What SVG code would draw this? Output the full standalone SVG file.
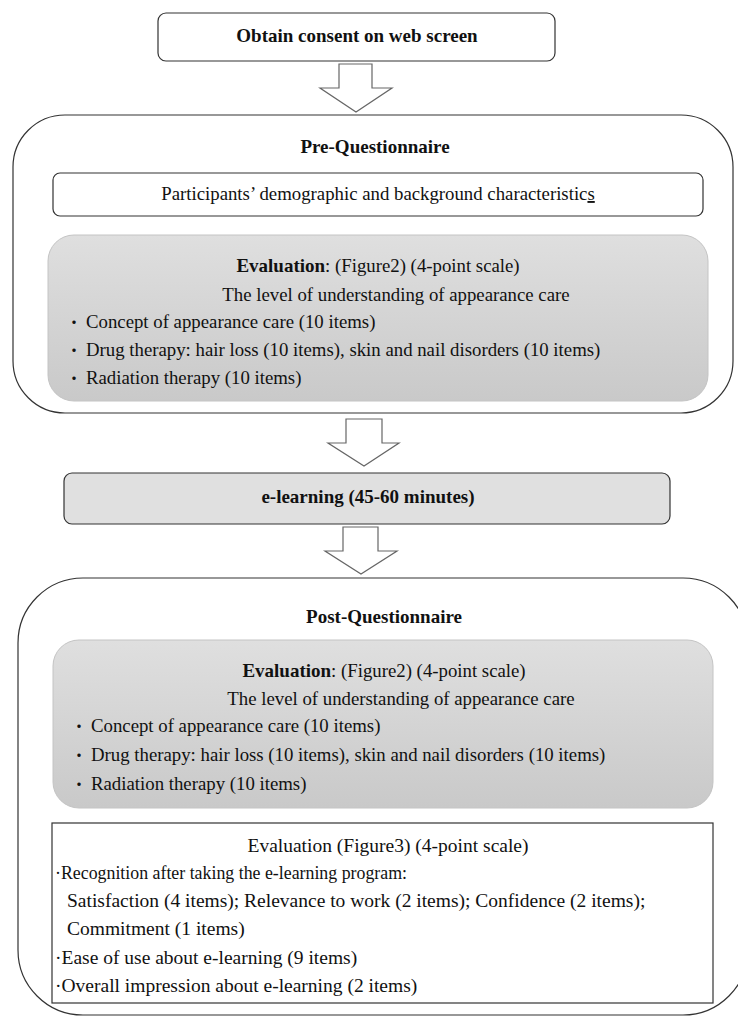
<svg xmlns="http://www.w3.org/2000/svg" width="738" height="1016" viewBox="0 0 738 1016">
<style>
text{font-family:"Liberation Serif","Times New Roman",serif;font-size:18.8px;fill:#111;}
.b{font-weight:bold;font-size:19px;}
.c{text-anchor:middle;}
.f3{font-size:19.5px;}
.dot{font-family:"Noto Sans CJK JP","Liberation Serif",sans-serif;font-size:16px;}
.outer{fill:#fff;stroke:#333;stroke-width:1.2;}
.box{fill:#fff;stroke:#333;stroke-width:1.2;}
.grey{fill:url(#g);stroke:#c4c4c4;stroke-width:1;}
.el{fill:#e0e0e0;stroke:#333;stroke-width:1.2;}
.arrow{fill:#fff;stroke:#666;stroke-width:1.2;stroke-linejoin:miter;}
</style>
<defs>
<linearGradient id="g" x1="0" y1="0" x2="0" y2="1">
<stop offset="0" stop-color="#dfdfdf"/>
<stop offset="1" stop-color="#c9c9c9"/>
</linearGradient>
</defs>
<rect width="738" height="1016" fill="#fff"/>
<g id="consent">
<rect class="box" x="158" y="13" width="397" height="48" rx="8"/>
<text class="b c" x="357" y="42">Obtain consent on web screen</text>
</g>
<g id="pre">
<rect class="outer" x="13" y="115" width="720" height="298" rx="52"/>
<text class="b c" x="375" y="153">Pre-Questionnaire</text>
<g id="participants">
<rect class="box" x="53" y="173" width="650" height="43" rx="7"/>
<text class="c" x="378" y="200" font-size="19">Participants’ demographic and background characteristic<tspan text-decoration="underline">s</tspan></text>
</g>
<g id="pre-eval">
<rect class="grey" x="48" y="235" width="660" height="166" rx="26"/>
<text class="c" x="378" y="272"><tspan class="b" font-size="18.8">Evaluation</tspan>: (Figure2) (4-point scale)</text>
<text class="c" x="396" y="301">The level of understanding of appearance care</text>
<text class="dot" x="66" y="328">・</text><text x="86" y="328">Concept of appearance care (10 items)</text>
<text class="dot" x="66" y="356">・</text><text x="86" y="356">Drug therapy: hair loss (10 items), skin and nail disorders (10 items)</text>
<text class="dot" x="66" y="384">・</text><text x="86" y="384">Radiation therapy (10 items)</text>
</g>
</g>
<g id="elearning">
<rect class="el" x="64" y="473" width="606" height="51" rx="8"/>
<text class="b c" x="368" y="503">e-learning (45-60 minutes)</text>
</g>
<g id="post">
<rect class="outer" x="18" y="578" width="730" height="437" rx="65"/>
<text class="b c" x="384" y="623">Post-Questionnaire</text>
<g id="post-eval">
<rect class="grey" x="53" y="640" width="660" height="168" rx="26"/>
<text class="c" x="384" y="677"><tspan class="b" font-size="18.8">Evaluation</tspan>: (Figure2) (4-point scale)</text>
<text class="c" x="401" y="705">The level of understanding of appearance care</text>
<text class="dot" x="71" y="732">・</text><text x="91" y="732">Concept of appearance care (10 items)</text>
<text class="dot" x="71" y="761">・</text><text x="91" y="761">Drug therapy: hair loss (10 items), skin and nail disorders (10 items)</text>
<text class="dot" x="71" y="790">・</text><text x="91" y="790">Radiation therapy (10 items)</text>
</g>
<g id="fig3-eval">
<rect x="52" y="823" width="661" height="180" fill="#fff" stroke="#333" stroke-width="1.2"/>
<text class="c f3" x="388" y="852">Evaluation (Figure3) (4-point scale)</text>
<text class="f3" x="55" y="879" textLength="352" lengthAdjust="spacingAndGlyphs">·Recognition after taking the e-learning program:</text>
<text class="f3" x="67" y="907">Satisfaction (4 items); Relevance to work (2 items); Confidence (2 items);</text>
<text class="f3" x="67" y="935">Commitment (1 items)</text>
<text class="f3" x="55" y="964">·Ease of use about e-learning (9 items)</text>
<text class="f3" x="55" y="992">·Overall impression about e-learning (2 items)</text>
</g>
</g>
<g id="connectors">
<path class="arrow" d="M339,64 H372 V88 H392 L356,112 L320,88 H339 Z"/>
<path class="arrow" d="M346,419 H382 V443 H399 L364,466 L328,443 H346 Z"/>
<path class="arrow" d="M343,527 H378 V551 H397 L361,574 L325,551 H343 Z"/>
</g>
</svg>
